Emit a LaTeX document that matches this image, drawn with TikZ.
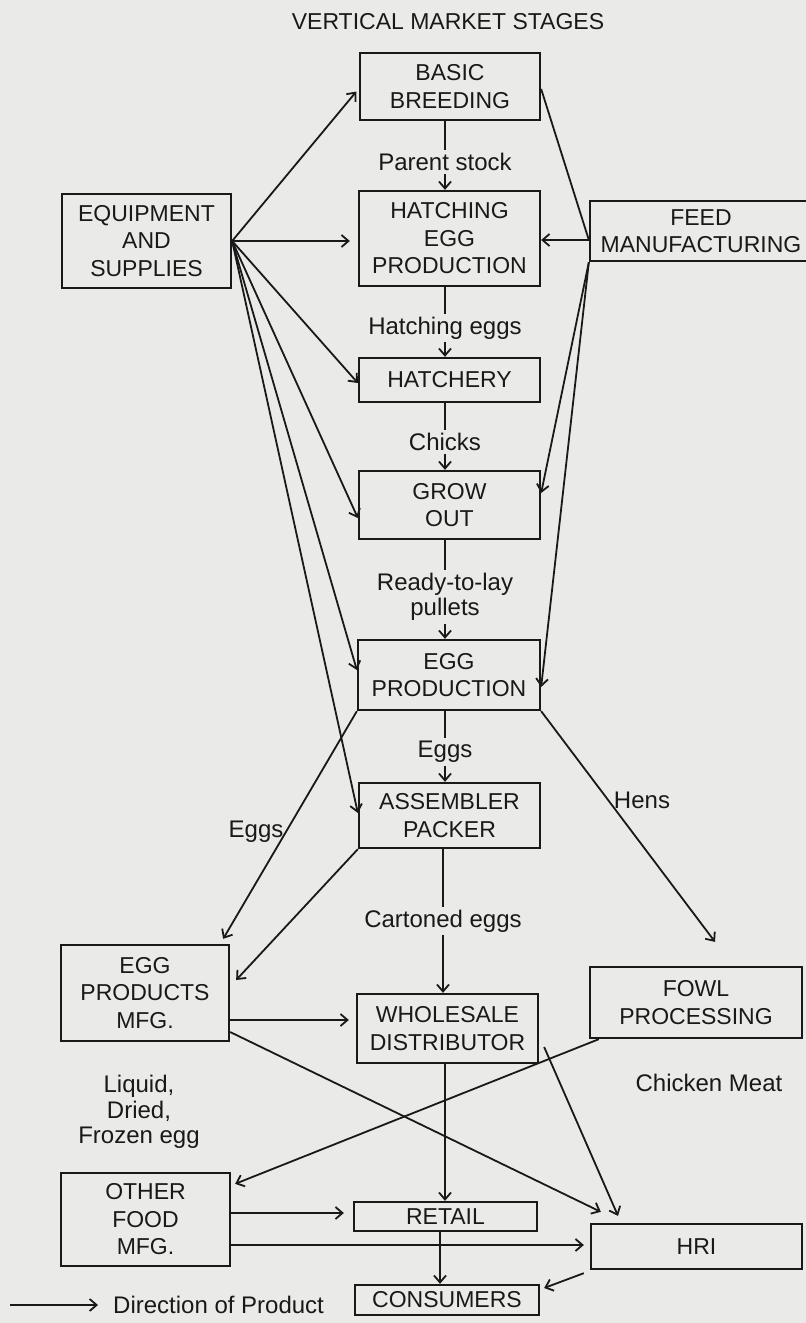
\documentclass[tikz,border=0pt]{standalone}
\usepackage{fontspec}
\setmainfont{Liberation Sans}
\usetikzlibrary{arrows.meta,calc}
\definecolor{bg}{RGB}{234,234,232}
\definecolor{ink}{RGB}{25,25,25}
\begin{document}
\begin{tikzpicture}[x=1pt,y=-1pt,
  box/.style={draw=ink, line width=2.3pt, inner sep=0pt, align=center,
    font=\fontsize{23}{27.5}\selectfont, text=ink},
  lab/.style={inner sep=3pt, align=center, font=\fontsize{24}{25.5}\selectfont, text=ink},
  conn/.style={draw=ink, line width=1.8pt},
  arr/.style={conn, -{Straight Barb[length=7pt,width=12pt]}}]
\useasboundingbox (0,0) rectangle (806,1323);
\fill[bg] (0,0) rectangle (806,1323);

% title
\node[lab, font=\fontsize{23}{27.5}\selectfont] (title) at (448,22) {VERTICAL MARKET STAGES};

% boxes
\node[box, minimum width=180pt, minimum height=67pt] (basic) at (450,86.5) {BASIC\\BREEDING};
\node[box, minimum width=181pt, minimum height=95pt] (hatch) at (449.5,238.5) {HATCHING\\EGG\\PRODUCTION};
\node[box, minimum width=169pt, minimum height=94pt] (equip) at (146.5,241) {EQUIPMENT\\AND\\SUPPLIES};
\node[box, minimum width=222pt, minimum height=60pt] (feed) at (701,231) {FEED\\MANUFACTURING};
\node[box, minimum width=181pt, minimum height=44pt] (hatchery) at (449.5,380) {HATCHERY};
\node[box, minimum width=181pt, minimum height=68pt] (grow) at (449.5,505) {GROW\\OUT};
\node[box, minimum width=182pt, minimum height=70pt] (eggprod) at (449,675) {EGG\\PRODUCTION};
\node[box, minimum width=181pt, minimum height=65pt] (assembler) at (449.5,815.5) {ASSEMBLER\\PACKER};
\node[box, minimum width=168pt, minimum height=96pt] (eggproducts) at (145,993) {EGG\\PRODUCTS\\MFG.};
\node[box, minimum width=181pt, minimum height=69pt] (wholesale) at (447.5,1028.5) {WHOLESALE\\DISTRIBUTOR};
\node[box, minimum width=212pt, minimum height=71pt] (fowl) at (696,1002.5) {FOWL\\PROCESSING};
\node[box, minimum width=169pt, minimum height=93pt] (other) at (145.5,1219.5) {OTHER\\FOOD\\MFG.};
\node[box, minimum width=183pt, minimum height=29pt] (retail) at (445.5,1216.5) {RETAIL};
\node[box, minimum width=211pt, minimum height=45pt] (hri) at (696.5,1246.5) {HRI};
\node[box, minimum width=184pt, minimum height=30pt] (consumers) at (447,1300) {CONSUMERS};

% chain labels
\node[lab] (l1) at (445,162) {Parent stock};
\node[lab] (l2) at (445,328) {Hatching eggs};
\node[lab] (l3) at (445,442) {Chicks};
\node[lab] (l4) at (445,597) {Ready-to-lay\\pullets};
\node[lab] (l5) at (445,752) {Eggs};
\node[lab] (l6) at (443,921) {Cartoned eggs};

% other labels
\node[lab] (hens) at (642,800) {Hens};
\node[lab] (eggsl) at (256,832) {Eggs};
\node[lab] (ldf) at (139,1112) {Liquid,\\Dried,\\Frozen egg};
\node[lab] (chicken) at (709,1083) {Chicken Meat};
\node[lab, anchor=west] (legend) at (110,1305) {Direction of Product};
\coordinate (legstart) at (10,1305);

% main chain
\draw[conn] (basic.south -| l1) -- (l1);
\draw[arr] (l1) -- (l1 |- hatch.north);
\draw[conn] (hatch.south -| l2) -- (l2);
\draw[arr] (l2) -- (l2 |- hatchery.north);
\draw[conn] (hatchery.south -| l3) -- (l3);
\draw[arr] (l3) -- (l3 |- grow.north);
\draw[conn] (grow.south -| l4) -- (l4);
\draw[arr] (l4) -- (l4 |- eggprod.north);
\draw[conn] (eggprod.south -| l5) -- (l5);
\draw[arr] (l5) -- (l5 |- assembler.north);
\draw[conn] (assembler.south -| l6) -- (l6);
\draw[arr] (l6) -- (l6 |- wholesale.north);
\draw[arr] ([xshift=-2.5pt]wholesale.south) -- ([xshift=-2.5pt]wholesale.south |- retail.north);
\draw[arr] ([xshift=-5.5pt]retail.south) -- ([xshift=-5.5pt]retail.south |- consumers.north);

% equipment fan
\draw[arr, shorten >=4pt] (equip.east) -- ([yshift=-2pt]basic.west);
\draw[arr, shorten >=8pt] (equip.east) -- (equip.east -| hatch.west);
\draw[arr] (equip.east) -- ([yshift=-3pt]hatchery.west);
\draw[arr] (equip.east) -- ([yshift=-13pt]grow.west);
\draw[arr] (equip.east) -- ([yshift=5pt]eggprod.west);
\draw[arr] (equip.east) -- ([yshift=2.5pt]assembler.west);

% feed
\draw[conn] ([yshift=-9pt]feed.west) -- ([yshift=-2.5pt]basic.east);
\draw[arr] ([yshift=-9pt]feed.west) -- ([yshift=-9pt]feed.west -| hatch.east);
\draw[arr] (feed.south west) -- ([yshift=12pt]grow.east);
\draw[arr] (feed.south west) -- ([yshift=-12pt]eggprod.east);

% egg production outputs
\draw[arr] (eggprod.south west) -- ([xshift=-7pt,yshift=5pt]eggproducts.north east);
\draw[arr] (eggprod.south east) -- ([xshift=19pt,yshift=24pt]fowl.north);
\draw[arr] (assembler.south west) -- ([xshift=6pt,yshift=13pt]eggproducts.east);

% lower section
\draw[arr, shorten >=7pt] ([yshift=-27pt]eggproducts.east) -- ([yshift=-27pt]eggproducts.east -| wholesale.west);
\draw[arr] ([yshift=-39pt]eggproducts.east) -- ([xshift=11pt,yshift=11pt]hri.north west);
\draw[arr] ([xshift=5pt,yshift=-18.5pt]wholesale.east) -- ([xshift=-78.5pt,yshift=7pt]hri.north);
\draw[arr] ([xshift=10pt]fowl.south west) -- ([xshift=4pt,yshift=-12pt]other.north east);
\draw[arr, shorten >=9pt] ([yshift=6.5pt]other.east) -- ([yshift=6.5pt]other.east -| retail.west);
\draw[arr, shorten >=6pt] ([yshift=-25.5pt]other.east) -- ([yshift=-25.5pt]other.east -| hri.west);
\draw[arr] ([xshift=-6pt,yshift=-3pt]hri.south west) -- ([xshift=4pt,yshift=12pt]consumers.east);

% legend
\draw[arr, shorten >=12pt] (legstart) -- (legend.west);
\end{tikzpicture}
\end{document}
